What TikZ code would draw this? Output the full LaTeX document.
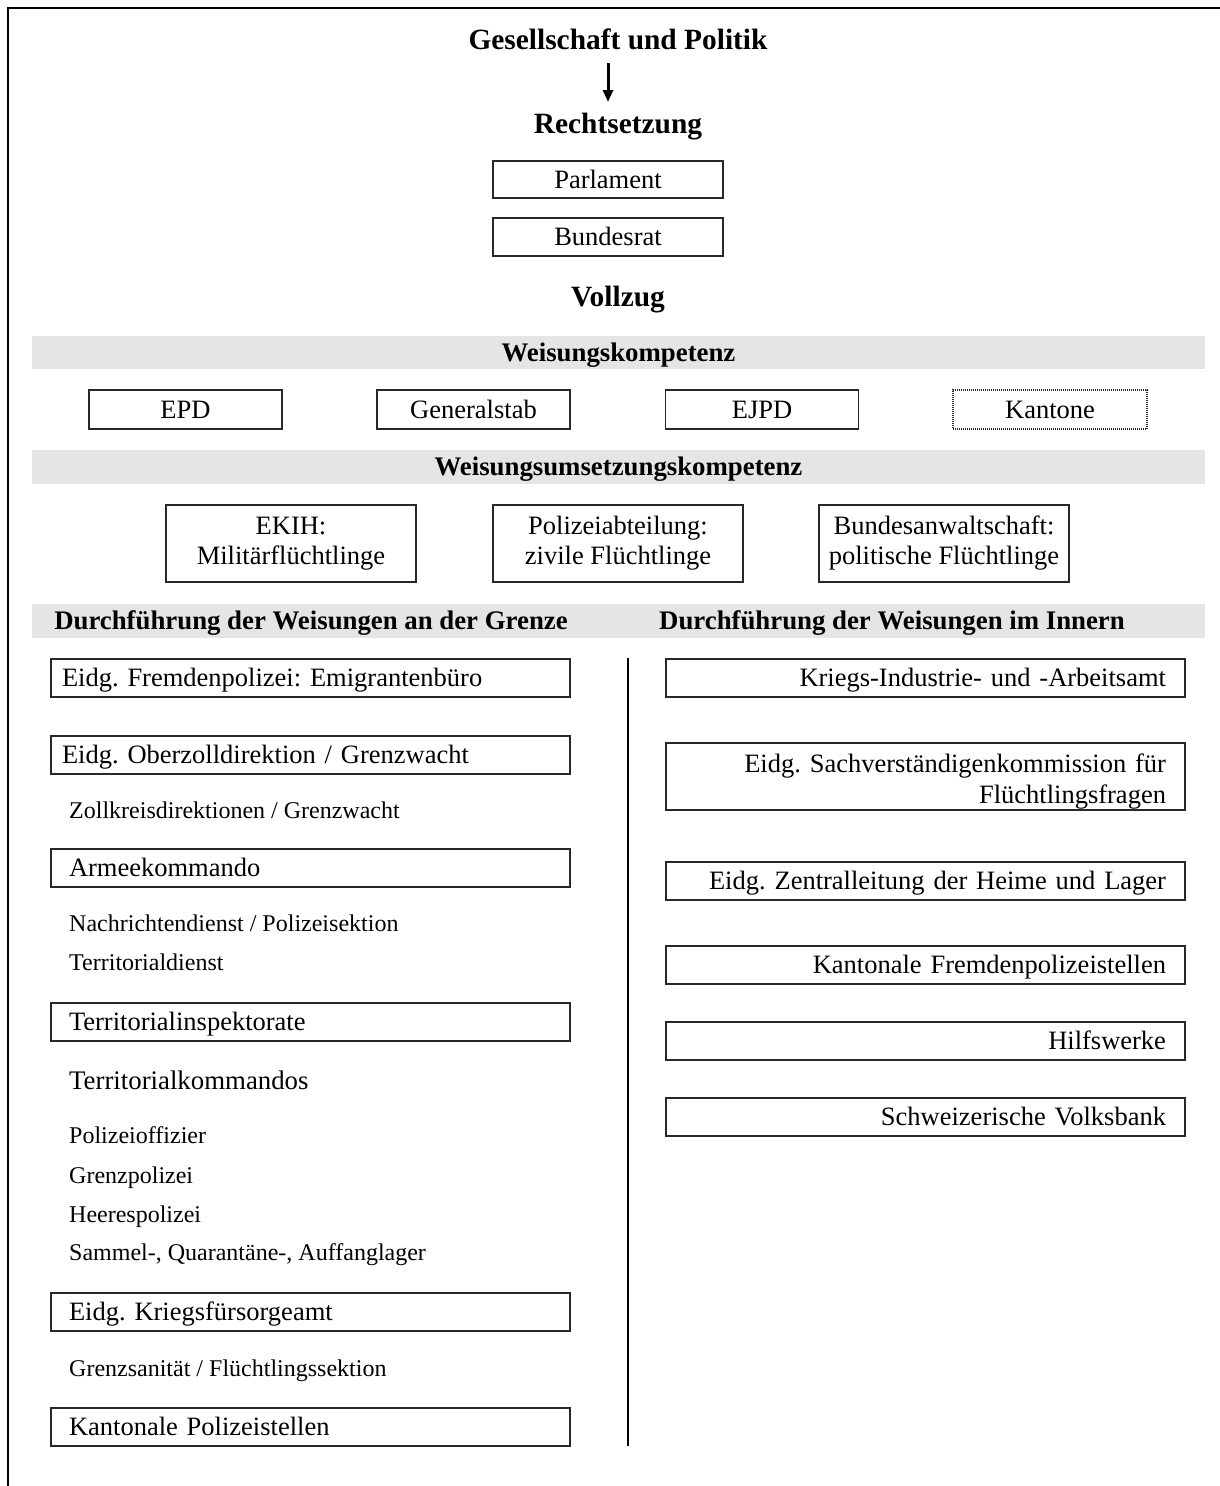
\documentclass[tikz,border=0pt]{standalone}
\usepackage{fontspec}
\setmainfont{Liberation Serif}
\usetikzlibrary{arrows.meta}
\definecolor{bandgray}{RGB}{229,229,229}
\definecolor{boxline}{RGB}{40,40,40}
\begin{document}
\frenchspacing
\begin{tikzpicture}[x=1pt,y=-1pt,
  hd/.style={font=\bfseries\fontsize{29.4}{34}\selectfont, inner sep=0pt, text height=19.4pt, text depth=0pt},
  bhd/.style={font=\bfseries\fontsize{26.8}{31}\selectfont, inner sep=0pt, text height=17.7pt, text depth=0pt},
  band/.style={fill=bandgray, inner sep=0pt, minimum width=1173pt},
  cbox/.style={draw=boxline, line width=1.1pt, inner sep=0pt, align=center, font=\fontsize{26.5}{30}\selectfont},
  one/.style={text height=17.5pt, text depth=0pt},
  lboxa/.style={cbox, one, inner xsep=11pt, text width=497pt, align=left, minimum height=38pt},
  lboxb/.style={cbox, one, inner xsep=18pt, text width=483pt, align=left, minimum height=38pt},
  rbox/.style={cbox, inner xsep=19pt, text width=481pt, align=right, minimum height=38pt},
  sm/.style={font=\fontsize{24}{28}\selectfont, inner sep=0pt, anchor=west, text height=15.8pt, text depth=0pt},
  lg/.style={font=\fontsize{26.8}{30}\selectfont, inner sep=0pt, anchor=west, text height=17.7pt, text depth=0pt}
]
\useasboundingbox (0,0) rectangle (1220,1486);
% frame
\draw[line width=2.2pt] (8,1486) -- (8,8) -- (1220,8);

% top headings
\node[hd] (gp) at (618,40) {Gesellschaft und Politik};
\coordinate (arT) at (608,63);
\coordinate (arB) at (608,102);
\draw[line width=3pt, -{Triangle[length=12pt,width=10pt]}] (arT) -- (arB);
\node[hd] (rs) at (618,124) {Rechtsetzung};
\node[cbox, one, minimum width=230pt, minimum height=37pt] (parl) at (608,179.5) {Parlament};
\node[cbox, one, minimum width=230pt, minimum height=38pt] (br) at (608,237) {Bundesrat};
\node[hd] (vz) at (618,297) {Vollzug};

% band 1
\node[band, minimum height=33pt] (b1) at (618.5,352.5) {};
\node[bhd] (wk) at (618.5,352.5) {Weisungskompetenz};
\node[cbox, one, minimum width=193pt, minimum height=39pt] (epd) at (185.5,409.5) {EPD};
\node[cbox, one, minimum width=193pt, minimum height=39pt] (gs) at (473.5,409.5) {Generalstab};
\node[cbox, one, minimum width=193pt, minimum height=39pt] (ejpd) at (762,409.5) {EJPD};
\node[cbox, one, dash pattern=on 1pt off 1pt, line width=1.3pt, minimum width=194pt, minimum height=39pt] (kt) at (1050,409.5) {Kantone};

% band 2
\node[band, minimum height=34pt] (b2) at (618.5,467) {};
\node[bhd] (wuk) at (618.5,467) {Weisungsumsetzungskompetenz};
\node[cbox, minimum width=250pt, minimum height=77pt] (ekih) at (291,543.5) {EKIH:\\Militärflüchtlinge};
\node[cbox, minimum width=250pt, minimum height=77pt] (pa) at (618,543.5) {Polizeiabteilung:\\zivile Flüchtlinge};
\node[cbox, minimum width=250pt, minimum height=77pt] (ba) at (944,543.5) {Bundesanwaltschaft:\\politische Flüchtlinge};

% band 3
\node[band, minimum height=34pt] (b3) at (618.5,621) {};
\node[bhd] (dg) at (311,621) {Durchführung der Weisungen an der Grenze};
\node[bhd] (di) at (892,621) {Durchführung der Weisungen im Innern};

% left column
\node[lboxa] (l1) at (310.5,678) {Eidg. Fremdenpolizei: Emigrantenbüro};
\node[lboxa] (l2) at (310.5,755) {Eidg. Oberzolldirektion / Grenzwacht};
\node[sm] (s1) at (69,811) {Zollkreisdirektionen / Grenzwacht};
\node[lboxb] (l3) at (310.5,868) {Armeekommando};
\node[sm] (s2) at (69,924) {Nachrichtendienst / Polizeisektion};
\node[sm] (s3) at (69,963) {Territorialdienst};
\node[lboxb] (l4) at (310.5,1022) {Territorialinspektorate};
\node[lg] (s4) at (69,1081) {Territorialkommandos};
\node[sm] (s5) at (69,1136) {Polizeioffizier};
\node[sm] (s6) at (69,1176) {Grenzpolizei};
\node[sm] (s7) at (69,1215) {Heerespolizei};
\node[sm] (s8) at (69,1253) {Sammel-, Quarantäne-, Auffanglager};
\node[lboxb] (l5) at (310.5,1312) {Eidg. Kriegsfürsorgeamt};
\node[sm] (s9) at (69,1369) {Grenzsanität / Flüchtlingssektion};
\node[lboxb] (l6) at (310.5,1427) {Kantonale Polizeistellen};

% divider
\coordinate (dvT) at (628,658);
\coordinate (dvB) at (628,1446);
\draw[line width=1.3pt] (dvT) -- (dvB);

% right column
\node[rbox, one] (r1) at (925.5,678) {Kriegs-Industrie- und -Arbeitsamt};
\node[rbox, minimum height=67pt, font=\fontsize{26.5}{31}\selectfont] (r2) at (925.5,776.5) {\rule{0pt}{28pt}Eidg. Sachverständigenkommission für\\Flüchtlingsfragen};
\node[rbox, one] (r3) at (925.5,881) {Eidg. Zentralleitung der Heime und Lager};
\node[rbox, one] (r4) at (925.5,965) {Kantonale Fremdenpolizeistellen};
\node[rbox, one] (r5) at (925.5,1041) {Hilfswerke};
\node[rbox, one] (r6) at (925.5,1117) {Schweizerische Volksbank};
\end{tikzpicture}
\end{document}
